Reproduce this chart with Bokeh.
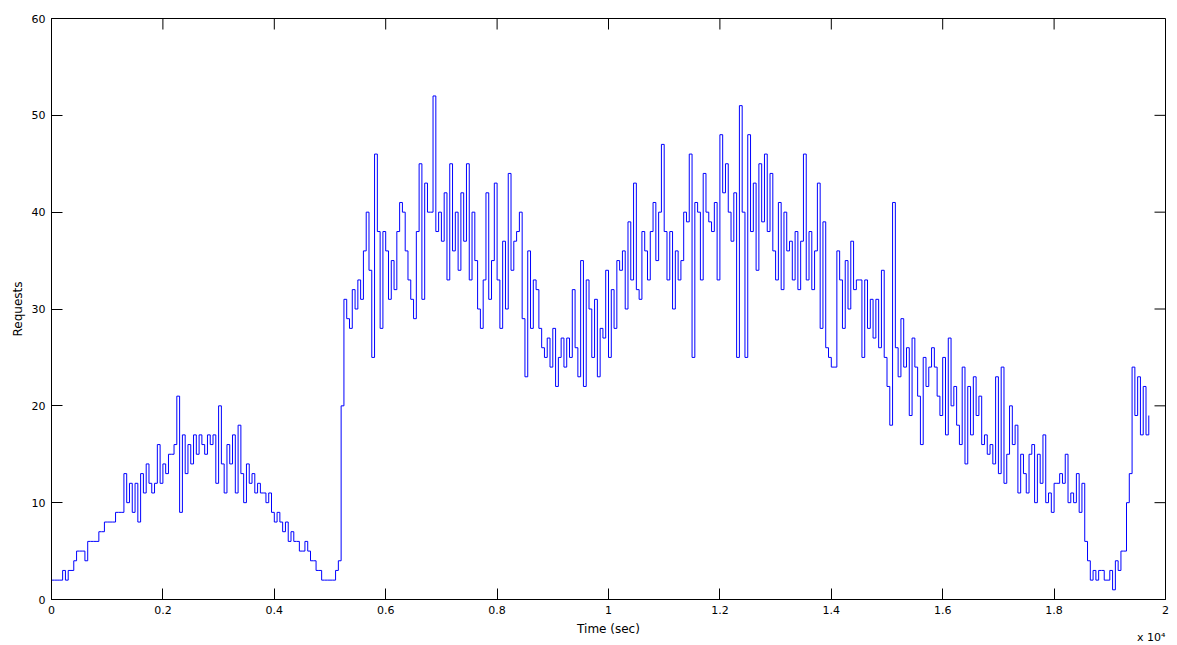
import numpy as np
from bokeh.plotting import figure
from bokeh.models import Range1d, FixedTicker, Title
from bokeh.embed import file_html
from bokeh.resources import INLINE

# ---- data ----
sample_interval_s = 50
requests = [
    2, 2, 2, 2, 3, 2, 3, 3, 4, 5,
    5, 5, 4, 6, 6, 6, 6, 7, 7, 8,
    8, 8, 8, 9, 9, 9, 13, 10, 12, 9,
    12, 8, 13, 11, 14, 12, 11, 12, 16, 12,
    14, 13, 15, 15, 16, 21, 9, 17, 13, 16,
    14, 17, 15, 17, 16, 15, 17, 16, 17, 12,
    20, 14, 11, 16, 14, 17, 11, 18, 13, 10,
    14, 12, 13, 11, 12, 11, 11, 10, 11, 9,
    8, 9, 8, 7, 8, 6, 7, 6, 6, 5,
    5, 6, 5, 4, 4, 3, 3, 2, 2, 2,
    2, 2, 3, 4, 20, 31, 29, 28, 32, 30,
    33, 31, 36, 40, 34, 25, 46, 38, 28, 38,
    36, 31, 35, 32, 38, 41, 40, 36, 33, 31,
    29, 38, 45, 31, 43, 40, 40, 52, 38, 40,
    37, 42, 33, 45, 36, 40, 34, 42, 37, 45,
    33, 40, 35, 30, 28, 33, 42, 31, 35, 43,
    33, 28, 37, 30, 44, 34, 37, 38, 40, 29,
    23, 36, 28, 33, 32, 28, 26, 25, 27, 24,
    28, 22, 25, 27, 24, 27, 25, 32, 26, 23,
    35, 22, 33, 30, 25, 31, 23, 28, 27, 34,
    25, 32, 28, 35, 34, 36, 30, 39, 33, 43,
    32, 31, 38, 36, 33, 38, 41, 35, 40, 47,
    38, 33, 38, 30, 36, 33, 35, 40, 39, 46,
    25, 41, 40, 33, 44, 40, 39, 38, 41, 33,
    48, 42, 45, 40, 37, 42, 25, 51, 40, 25,
    48, 38, 43, 34, 45, 39, 46, 38, 44, 36,
    33, 41, 32, 40, 36, 37, 33, 38, 32, 37,
    46, 33, 38, 32, 36, 43, 28, 39, 26, 25,
    24, 24, 36, 33, 28, 35, 30, 37, 32, 33,
    33, 25, 33, 28, 31, 27, 31, 26, 34, 25,
    22, 18, 41, 26, 23, 29, 24, 26, 19, 27,
    24, 21, 16, 25, 22, 24, 26, 24, 21, 19,
    25, 17, 27, 20, 22, 18, 16, 24, 14, 22,
    17, 23, 19, 21, 16, 17, 15, 16, 14, 23,
    13, 24, 12, 15, 20, 16, 18, 11, 15, 13,
    11, 15, 16, 10, 15, 12, 17, 10, 11, 9,
    12, 12, 13, 12, 15, 10, 11, 10, 13, 9,
    12, 6, 4, 2, 3, 2, 3, 3, 2, 2,
    3, 1, 4, 3, 5, 5, 10, 13, 24, 19,
    23, 17, 22, 17, 19,
]
x_ticks = [0, 2000, 4000, 6000, 8000, 10000, 12000, 14000, 16000, 18000, 20000]
x_tick_labels = ["0", "0.2", "0.4", "0.6", "0.8", "1", "1.2", "1.4", "1.6", "1.8", "2"]
y_ticks = [0, 10, 20, 30, 40, 50, 60]
x_label = "Time (sec)"
y_label = "Requests"
x_exponent = "x 10\u2074"

time_s = np.arange(len(requests)) * sample_interval_s

FONT = "DejaVu Sans"
X_MAX = x_ticks[-1]
Y_MAX = y_ticks[-1]

p = figure(width=1170, height=645, output_backend="svg", toolbar_location=None,
           x_range=Range1d(0, X_MAX), y_range=Range1d(0, Y_MAX),
           min_border_left=51, min_border_right=5, min_border_top=18,
           min_border_bottom=46)
p.background_fill_color = "white"
p.border_fill_color = "white"
p.outline_line_color = "black"
p.outline_line_alpha = 1.0
p.xgrid.visible = False
p.ygrid.visible = False

p.step(time_s, requests, mode="after", line_color="#0000ff", line_width=1)

# inward ticks on the right and top edges of the box (MATLAB style)
p.ray(x=[X_MAX] * len(y_ticks), y=y_ticks, length=11, length_units="screen",
      angle=np.pi, line_color="black", line_width=1)
p.ray(x=x_ticks, y=[Y_MAX] * len(x_ticks), length=11, length_units="screen",
      angle=-np.pi / 2, line_color="black", line_width=1)

p.xaxis.ticker = FixedTicker(ticks=x_ticks)
p.yaxis.ticker = FixedTicker(ticks=y_ticks)

for ax in list(p.xaxis) + list(p.yaxis):
    ax.axis_line_color = "black"
    ax.major_tick_line_color = "black"
    ax.major_tick_in = 11
    ax.major_tick_out = 0
    ax.minor_tick_line_color = None
    ax.major_label_text_font = FONT
    ax.major_label_text_font_size = "11px"
    ax.major_label_text_color = "black"
    ax.axis_label_text_font = FONT
    ax.axis_label_text_font_size = "12px"
    ax.axis_label_text_font_style = "normal"
    ax.axis_label_text_color = "black"

bottom = p.xaxis[0]
bottom.major_label_overrides = {t: s for t, s in zip(x_ticks, x_tick_labels)}
bottom.major_label_standoff = 6
bottom.axis_label = x_label
bottom.axis_label_standoff = 5

left = p.yaxis[0]
left.major_label_standoff = 6
left.axis_label = y_label
left.axis_label_standoff = 4

p.add_layout(Title(text=x_exponent, align="right", vertical_align="top",
                   text_font=FONT, text_font_size="11px",
                   text_font_style="normal", text_color="black",
                   standoff=-16), "below")

open("out.html", "w").write(file_html(p, INLINE))
